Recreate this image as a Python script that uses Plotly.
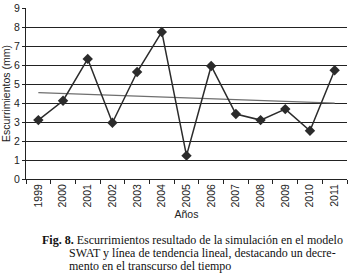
import numpy as np
import plotly.graph_objects as go

years = ["1999", "2000", "2001", "2002", "2003", "2004", "2005", "2006", "2007", "2008", "2009", "2010", "2011"]
runoff = [3.1, 4.12, 6.32, 2.96, 5.63, 7.74, 1.23, 5.95, 3.42, 3.1, 3.68, 2.54, 5.72]
y_ticks = [0, 1, 2, 3, 4, 5, 6, 7, 8, 9]

idx = np.arange(len(years))
slope, intercept = np.polyfit(idx, runoff, 1)
trend = [intercept + slope * idx[0], intercept + slope * idx[-1]]

W, H = 353, 277
L, R, T, B = 26, 6, 8, 98
pw = W - L - R
ph = H - T - B

fig = go.Figure()
fig.add_trace(go.Scatter(x=[years[0], years[-1]], y=trend, mode="lines",
                         line=dict(color="#6e6e6e", width=1.3), showlegend=False, hoverinfo="skip"))
fig.add_trace(go.Scatter(x=years, y=runoff, mode="lines+markers",
                         line=dict(color="#2b2b2b", width=1.5),
                         marker=dict(symbol="diamond", size=8, color="#2b2b2b"),
                         showlegend=False))

fig.update_layout(
    width=W, height=H,
    margin=dict(l=L, r=R, t=T, b=B, autoexpand=False),
    paper_bgcolor="white", plot_bgcolor="white",
    font=dict(family="Liberation Sans, Arial, sans-serif", color="#222", size=10.5),
    xaxis=dict(type="category", categoryorder="array", categoryarray=years,
               tickangle=-90, ticks="outside", tickson="boundaries", ticklen=4,
               tickcolor="#222", showline=True, linecolor="#222", linewidth=1,
               showgrid=False, tickfont=dict(size=10.5), range=[-0.5, 12.5],
               automargin=False,
               title=dict(text="Años", font=dict(size=10.5), standoff=3)),
    yaxis=dict(range=[0, 9], tickvals=y_ticks, ticks="outside", ticklen=3,
               tickcolor="#222", showline=True, linecolor="#222", linewidth=1,
               showgrid=True, gridcolor="#222", gridwidth=1, zeroline=False,
               tickfont=dict(size=10.5), automargin=False,
               title=dict(text="Escurrimientos (mm)", font=dict(size=10.5), standoff=4)),
)

def px(x):
    return (x - L) / pw

def py(y):
    return 1 - (y - T) / ph

serif = "Liberation Serif, Times New Roman, serif"
cap = dict(family=serif, size=12, color="#111")
fig.add_annotation(x=px(40), y=py(240), xref="paper", yref="paper", xanchor="left", yanchor="middle",
                   showarrow=False, font=cap,
                   text="<b>Fig. 8.</b> Escurrimientos resultado de la simulación en el modelo")
fig.add_annotation(x=px(67), y=py(253), xref="paper", yref="paper", xanchor="left", yanchor="middle",
                   showarrow=False, font=cap,
                   text="SWAT y línea de tendencia lineal, destacando un decre-")
fig.add_annotation(x=px(67), y=py(266), xref="paper", yref="paper", xanchor="left", yanchor="middle",
                   showarrow=False, font=cap,
                   text="mento en el transcurso del tiempo")

fig.write_html("out.html", config={"displayModeBar": False},
               post_script="document.body.style.margin='0';")
